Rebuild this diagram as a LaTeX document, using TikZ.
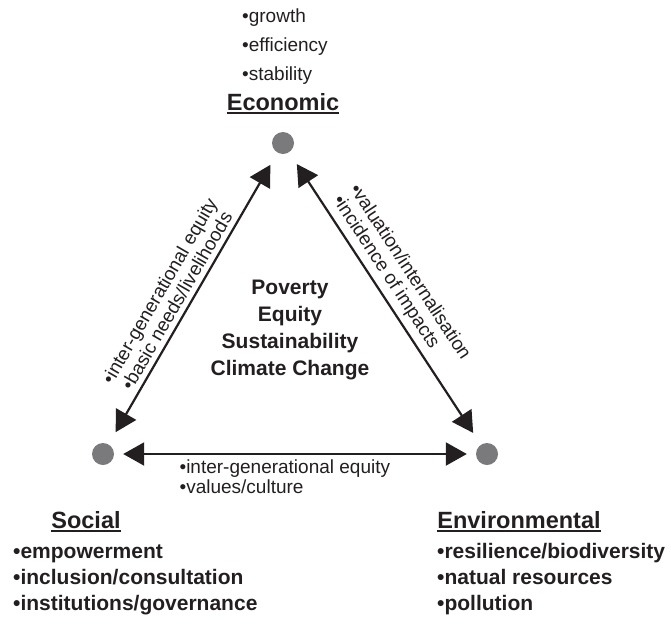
\documentclass[tikz,border=0pt]{standalone}
\usepackage{fontspec}
\setmainfont{Liberation Sans}
\usetikzlibrary{arrows.meta}
\definecolor{dotgray}{RGB}{122,122,125}
\definecolor{inkgray}{RGB}{35,31,32}
\newcommand{\ulword}[1]{\vtop{\hbox{#1}\kern1.6pt\hrule height 1.7pt}}

\begin{document}
\begin{tikzpicture}[
  x=1pt, y=-1pt,
  dot/.style={circle, fill=dotgray, minimum size=22pt, inner sep=0pt},
  heading/.style={font=\fontsize{23.5}{26}\selectfont\bfseries, text=inkgray, inner sep=0pt},
  toplist/.style={font=\fontsize{19}{29}\selectfont, align=left, text=inkgray, inner sep=0pt},
  boldlist/.style={font=\fontsize{21}{26}\selectfont\bfseries, align=left, text=inkgray, inner sep=0pt},
  corelabel/.style={font=\fontsize{21}{27}\selectfont\bfseries, align=center, text=inkgray},
  sidelabel/.style={font=\fontsize{19}{20}\selectfont, text=inkgray, inner sep=5pt},
  twoway/.style={draw=inkgray, line width=2.2pt,
    {Triangle[length=21pt,width=23pt]}-{Triangle[length=21pt,width=23pt]},
    shorten <=14pt, shorten >=14pt}
]
\useasboundingbox (0,0) rectangle (671,624);

% the three pillars
\node[dot] (eco) at (283,143) {};
\node[dot] (soc) at (103,454) {};
\node[dot] (env) at (487,454) {};

% headings and their lists (lists anchored on their last line)
\node[heading, anchor=base] (ecohead) at (283,110) {\ulword{Economic}};
\node[heading, anchor=base] (sochead) at (86,528) {\ulword{Social}};
\node[heading, anchor=base] (envhead) at (519,528) {\ulword{Environmental}};

\node[toplist, anchor=base west] (ecolist) at (242,80) {•growth\\•efficiency\\•stability};
\node[boldlist, anchor=base west] (soclist) at (13,610) {•empowerment\\•inclusion/consultation\\•institutions/governance};
\node[boldlist, anchor=base west] (envlist) at (437,610) {•resilience/biodiversity\\•natual resources\\•pollution};

\node[corelabel] (core) at (290,330) {Poverty\\Equity\\Sustainability\\Climate Change};

% links between pillars
\path (soc) edge[twoway] node[sidelabel, sloped, above, pos=0.47, align=center]
    {•inter-generational equity\\•basic needs/livelihoods} (eco)
  (eco) edge[twoway] node[sidelabel, sloped, above, pos=0.476, align=left]
    {•valuation/internalisation\\•incidence of impacts} (env)
  (soc) edge[twoway, shorten <=9pt, shorten >=9pt] node[sidelabel, below, pos=0.472, align=left]
    {•inter-generational equity\\•values/culture} (env);

\end{tikzpicture}
\end{document}
